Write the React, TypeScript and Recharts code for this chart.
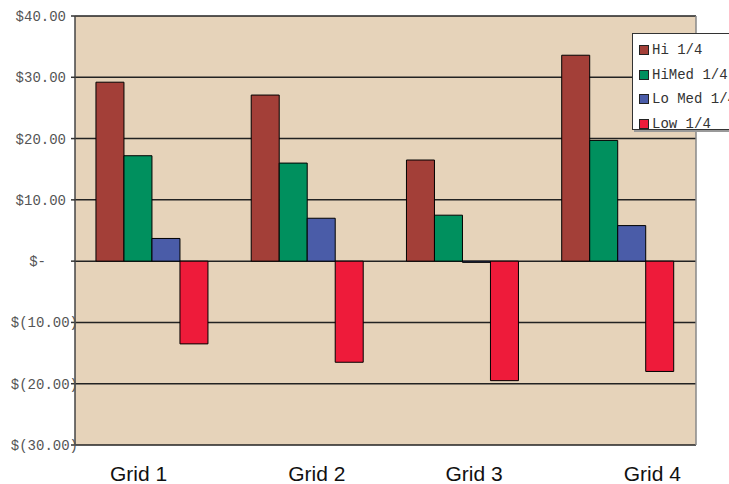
import { BarChart, Bar, XAxis, YAxis, CartesianGrid, Legend } from 'recharts';

const categories = ['Grid 1', 'Grid 2', 'Grid 3', 'Grid 4'];
const hiQuarter = [29.2, 27.1, 16.5, 33.6];
const hiMedQuarter = [17.2, 16.0, 7.5, 19.7];
const loMedQuarter = [3.7, 7.0, -0.2, 5.8];
const lowQuarter = [-13.5, -16.5, -19.5, -18.0];
const yTicks = [-30, -20, -10, 0, 10, 20, 30, 40];

const series = [
  { key: 'hi', name: 'Hi 1/4', color: '#A33F38' },
  { key: 'hiMed', name: 'HiMed 1/4', color: '#00905E' },
  { key: 'loMed', name: 'Lo Med 1/4', color: '#4A5CA8' },
  { key: 'low', name: 'Low 1/4', color: '#EE1B3A' },
];

const data = categories.map((name, i) => ({
  name,
  hi: hiQuarter[i],
  hiMed: hiMedQuarter[i],
  loMed: loMedQuarter[i],
  low: lowQuarter[i],
}));

const MONO = "'Liberation Mono', 'Courier New', monospace";
const SANS = "'Liberation Sans', Arial, sans-serif";

// Excel's label positions sit off the category centres
const xLabelShift = [-14, 9, 11, 34];

function money(v: number) {
  if (v === 0) return '$-';
  const s = Math.abs(v).toFixed(2);
  return v < 0 ? `$(${s})` : `$${s}`;
}

function YTick({ x, y, payload }: any) {
  const v = payload.value;
  const endX = v === 0 ? x - 23 : v < 0 ? x + 9 : x - 3;
  return (
    <text x={endX} y={y} dy={5} textAnchor="end" fontFamily={MONO} fontSize={14} fill="#555">
      {money(v)}
    </text>
  );
}

function XTick({ x, y, payload, index }: any) {
  return (
    <text x={x + (xLabelShift[index] ?? 0)} y={y} dy={36} textAnchor="middle" fontFamily={SANS} fontSize={21} fill="#111">
      {payload.value}
    </text>
  );
}

function LegendBox() {
  return (
    <div
      style={{
        width: 108,
        height: 97,
        background: '#fff',
        border: '1px solid #333',
        boxShadow: '2px 2px 0 #999',
        boxSizing: 'border-box',
        paddingTop: 4,
        paddingLeft: 6,
      }}
    >
      {series.map((s) => (
        <div key={s.key} style={{ display: 'flex', alignItems: 'center', height: 24.5 }}>
          <span
            style={{
              width: 10,
              height: 10,
              background: s.color,
              border: '1px solid #222',
              boxSizing: 'border-box',
              marginRight: 3,
            }}
          />
          <span style={{ fontFamily: MONO, fontSize: 14, color: '#333', whiteSpace: 'nowrap' }}>{s.name}</span>
        </div>
      ))}
    </div>
  );
}

export default function App() {
  return (
    <div style={{ width: 729, height: 484, overflow: 'hidden', position: 'relative', background: '#fff' }}>
      <style>{'body{margin:0}'}</style>
      <BarChart
        width={729}
        height={484}
        data={data}
        margin={{ top: 16, right: 0, left: 0, bottom: 0 }}
        barCategoryGap="13.5%"
        barGap={0}
      >
        <CartesianGrid
          yAxisId="left"
          vertical={false}
          horizontal
          stroke="#222"
          strokeWidth={1.5}
          fill="#E6D3BA"
          fillOpacity={1}
        />
        <XAxis
          dataKey="name"
          axisLine={false}
          tickLine={false}
          tickSize={0}
          tickMargin={0}
          height={39}
          tick={<XTick />}
          interval={0}
        />
        <YAxis
          yAxisId="left"
          domain={[-30, 40]}
          ticks={yTicks}
          width={75}
          tickSize={4}
          axisLine={{ stroke: '#444', strokeWidth: 1.5 }}
          tickLine={{ stroke: '#333', strokeWidth: 1.5 }}
          tick={<YTick />}
          interval={0}
        />
        <YAxis
          yAxisId="right"
          orientation="right"
          domain={[-30, 40]}
          width={33}
          tick={false}
          tickLine={false}
          axisLine={{ stroke: '#888', strokeWidth: 1.5 }}
        />
        <Legend
          layout="horizontal"
          verticalAlign="middle"
          wrapperStyle={{ position: 'absolute', left: 632, top: 33, width: 'auto' }}
          content={() => <LegendBox />}
        />
        {series.map((s) => (
          <Bar
            key={s.key}
            yAxisId="left"
            dataKey={s.key}
            name={s.name}
            fill={s.color}
            stroke="#000"
            strokeWidth={1}
            isAnimationActive={false}
          />
        ))}
      </BarChart>
    </div>
  );
}
